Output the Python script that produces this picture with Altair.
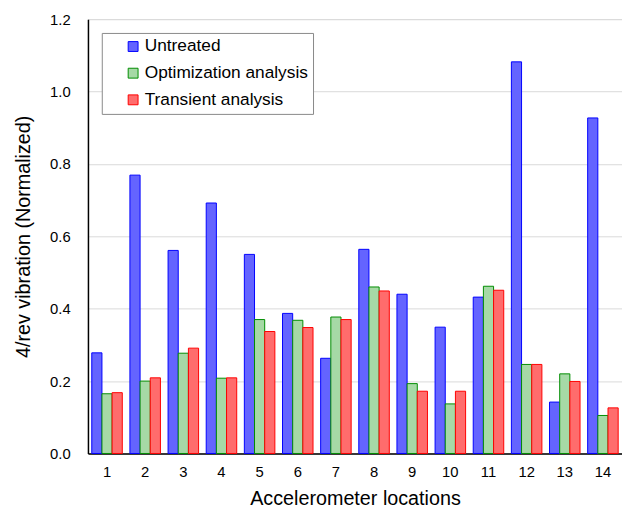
import altair as alt
import pandas as pd

locations = [str(i) for i in range(1, 15)]
series = ["Untreated", "Optimization analysis", "Transient analysis"]
untreated = [0.278, 0.769, 0.561, 0.692, 0.550, 0.387, 0.263, 0.564, 0.440, 0.349, 0.432, 1.082, 0.142, 0.927]
optimization = [0.165, 0.200, 0.277, 0.208, 0.370, 0.368, 0.377, 0.460, 0.193, 0.137, 0.462, 0.246, 0.220, 0.105]
transient = [0.168, 0.209, 0.291, 0.209, 0.337, 0.348, 0.370, 0.449, 0.172, 0.172, 0.451, 0.246, 0.199, 0.126]
y_ticks = [0.0, 0.2, 0.4, 0.6, 0.8, 1.0, 1.2]

fills = ["#6464ff", "#a6d9a6", "#ff6c6c"]
strokes = ["#0000ff", "#008c00", "#ff0000"]

rows = []
for name, vals in zip(series, [untreated, optimization, transient]):
    for loc, v in zip(locations, vals):
        rows.append({"loc": loc, "series": name, "value": v})
df = pd.DataFrame(rows)

FONT = "Liberation Sans"

legend_cfg = dict(title=None, orient="none", legendX=14, legendY=14,
                  symbolType="square", symbolSize=100, symbolStrokeWidth=1,
                  labelFontSize=17.5, labelFont=FONT, labelColor="black", labelLimit=400,
                  labelExpr="datum.label + '\u2003'",
                  padding=5, rowPadding=8, symbolOffset=18, labelOffset=3,
                  strokeColor="#888888", fillColor="white")

chart = alt.Chart(df).mark_bar(strokeWidth=1).encode(
    x=alt.X("loc:N", sort=locations,
            scale=alt.Scale(paddingInner=0.2, paddingOuter=0.1),
            axis=alt.Axis(title="Accelerometer locations", labelAngle=0,
                          labelFontSize=15, titleFontSize=20, titleFontWeight="normal",
                          labelPadding=11, titlePadding=10, ticks=False, tickSize=0,
                          domainColor="black", domainWidth=1.5,
                          labelColor="black", titleColor="black",
                          labelFont=FONT, titleFont=FONT)),
    xOffset=alt.XOffset("series:N", sort=series, scale=alt.Scale(domain=series)),
    y=alt.Y("value:Q", scale=alt.Scale(domain=[0, 1.2], nice=False),
            axis=alt.Axis(title="4/rev vibration (Normalized)", values=y_ticks, format=".1f",
                          labelFontSize=15, titleFontSize=20, titleFontWeight="normal",
                          labelPadding=18, titlePadding=16, ticks=False, tickSize=0,
                          domainColor="black", domainWidth=1.5,
                          gridColor="#d9d9d9", gridWidth=1,
                          labelColor="black", titleColor="black",
                          labelFont=FONT, titleFont=FONT)),
    fill=alt.Fill("series:N", sort=series,
                  scale=alt.Scale(domain=series, range=fills),
                  legend=alt.Legend(**legend_cfg)),
    stroke=alt.Stroke("series:N", sort=series,
                      scale=alt.Scale(domain=series, range=strokes),
                      legend=alt.Legend(**legend_cfg)),
).properties(
    width=541, height=440,
    padding={"left": 6, "top": 1, "right": 0, "bottom": 0},
).configure_view(stroke="#222222", strokeWidth=1).configure(background="white")

chart.save("out.html", embed_options={"renderer": "svg", "actions": False})
